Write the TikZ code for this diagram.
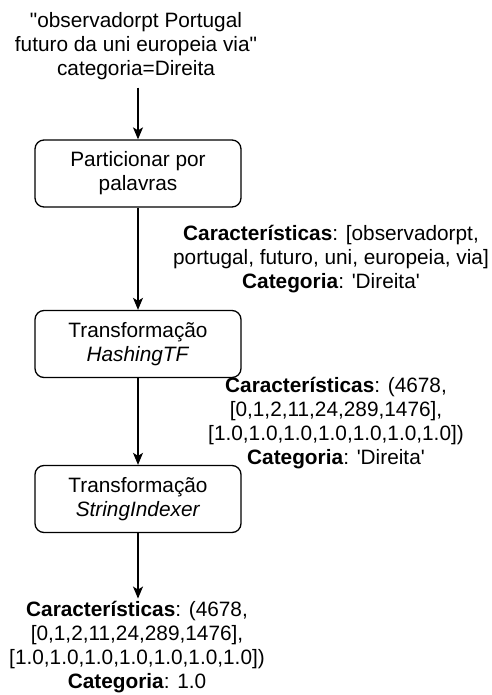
\documentclass[tikz,border=0pt]{standalone}
\usepackage{fontspec}
\setmainfont{Liberation Sans}[Ligatures=TeXOff]
\usetikzlibrary{arrows.meta}
\begin{document}
\begin{tikzpicture}[x=1pt,y=-1pt,
  lbl/.style={font=\fontsize{20.8}{24}\selectfont, align=center, inner sep=0pt, anchor=base},
  stepbox/.style={draw, line width=1.3pt, rounded corners=9pt, minimum width=206pt,
    minimum height=67pt, inner sep=0pt, font=\fontsize{20.8}{24}\selectfont, align=center},
  arr/.style={line width=1.3pt, -{Stealth[length=12pt,width=10pt,inset=3pt]}}]
\useasboundingbox (0,0) rectangle (491,695);

% input record (anchored at the baseline of its last line)
\node[lbl] (src) at (136,76) {"observadorpt Portugal\\futuro da uni europeia via"\\categoria=Direita};

% processing steps
\node[stepbox] (split) at (138,173.5) {Particionar por\\palavras};
\node[stepbox] (hash) at (138,344) {Transformação\\\textit{HashingTF}};
\node[stepbox] (index) at (138,499) {Transformação\\\textit{StringIndexer}};

% intermediate records
\node[lbl] (rec1) at (331,288) {\textbf{Características}: [observadorpt,\\portugal, futuro, uni, europeia, via]\\\textbf{Categoria}: 'Direita'};
\node[lbl] (rec2) at (336,464) {\textbf{Características}: (4678,\\{[}0,1,2,11,24,289,1476],\\{[}1.0,1.0,1.0,1.0,1.0,1.0,1.0])\\\textbf{Categoria}: 'Direita'};

% output record
\node[lbl] (out) at (137,688) {\textbf{Características}: (4678,\\{[}0,1,2,11,24,289,1476],\\{[}1.0,1.0,1.0,1.0,1.0,1.0,1.0])\\\textbf{Categoria}: 1.0};

% flow
\draw[arr, shorten <=7pt] (src.south -| split.north) -- (split.north);
\draw[arr] (split.south) -- (hash.north);
\draw[arr] (hash.south) -- (index.north);
\draw[arr, shorten >=2pt] (index.south) -- (index.south |- out.north);
\end{tikzpicture}
\end{document}
